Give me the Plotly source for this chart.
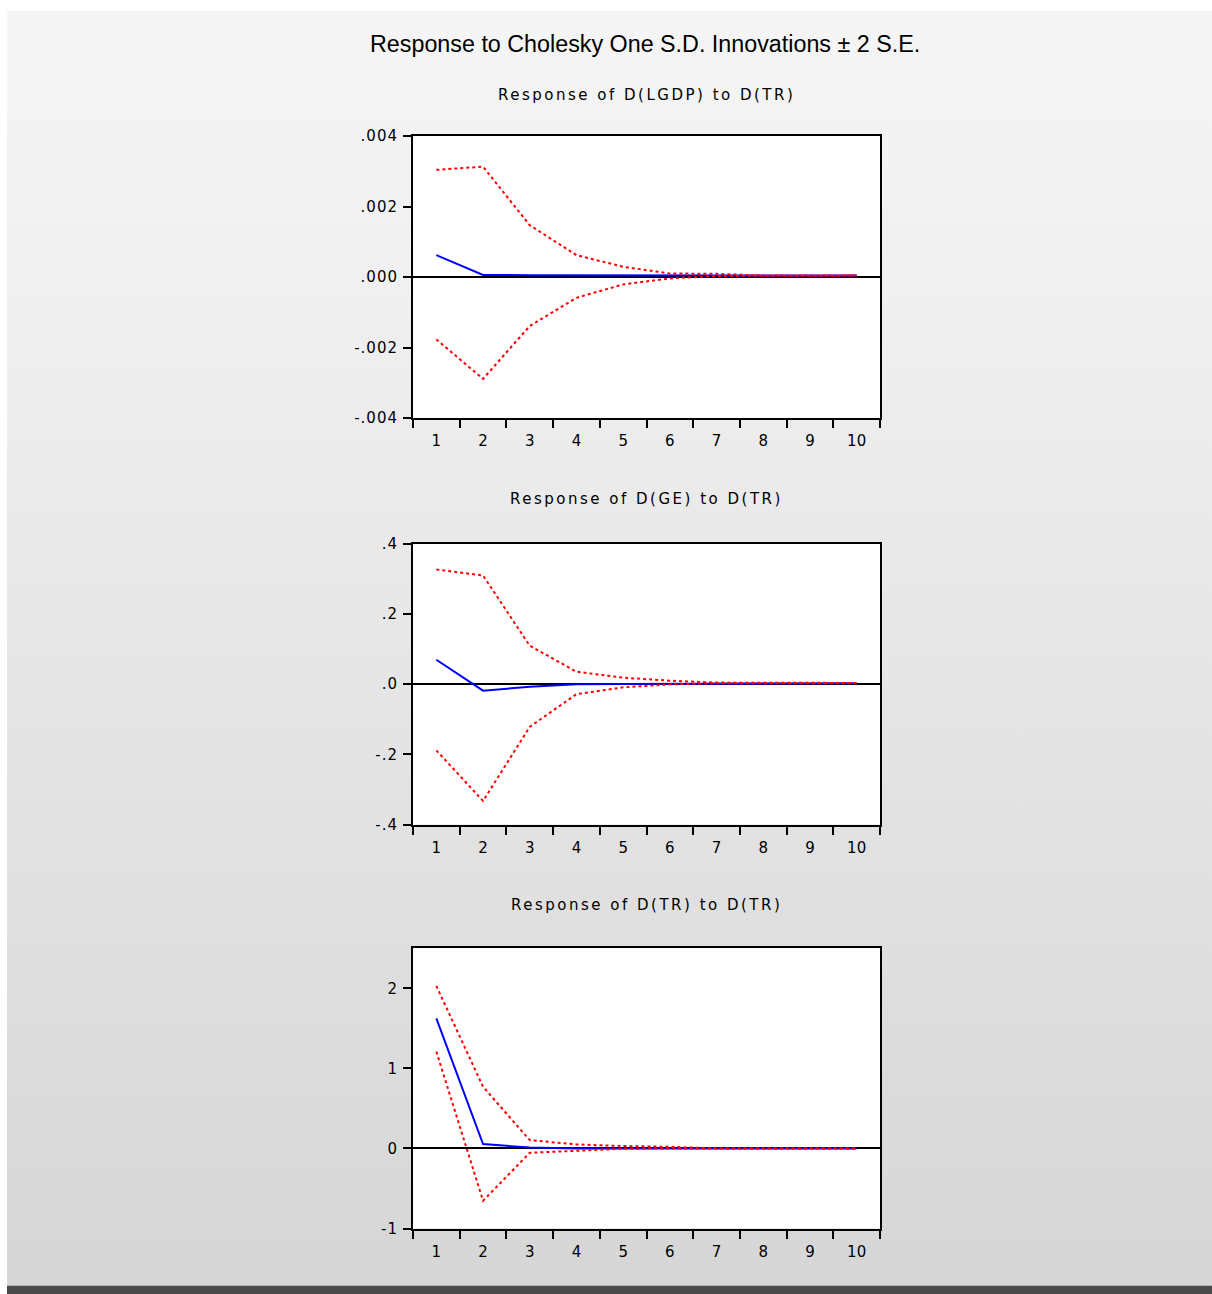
import base64
import plotly.graph_objects as go

# ---- data -------------------------------------------------------------
periods = [str(p) for p in range(1, 11)]

lgdp_resp = [0.00062, 0.00006, 0.00005, 0.00005, 0.00005, 0.00004, 0.00004, 0.00004, 0.00004, 0.00004]
lgdp_upper = [0.00304, 0.00313, 0.00147, 0.00062, 0.00029, 0.00010, 0.00009, 0.00004, 0.00004, 0.00004]
lgdp_lower = [-0.00177, -0.00289, -0.00139, -0.00059, -0.00021, -0.00004, 0.00003, 0.00004, 0.00004, 0.00004]

ge_resp = [0.069, -0.019, -0.008, -0.001, 0.000, 0.000, 0.000, 0.000, 0.000, 0.002]
ge_upper = [0.326, 0.309, 0.109, 0.035, 0.018, 0.0095, 0.004, 0.003, 0.003, 0.003]
ge_lower = [-0.189, -0.333, -0.122, -0.029, -0.0095, -0.001, 0.002, 0.002, 0.002, 0.002]

tr_resp = [1.625, 0.054, 0.0125, 0.0, 0.0, 0.0, 0.0, 0.0, 0.0, 0.0]
tr_upper = [2.03, 0.77, 0.104, 0.05, 0.03, 0.02, 0.0, 0.0, 0.0, 0.0]
tr_lower = [1.21, -0.654, -0.054, -0.03, -0.004, 0.0, 0.0, 0.0, 0.0, 0.0]

main_title = "Response to Cholesky One S.D. Innovations \u00b1 2 S.E."
panel_titles = [
    "Response of D(LGDP) to D(TR)",
    "Response of D(GE) to D(TR)",
    "Response of D(TR) to D(TR)",
]

lgdp_ticks = [0.004, 0.002, 0.0, -0.002, -0.004]
lgdp_ticktext = [".004", ".002", ".000", "-.002", "-.004"]
ge_ticks = [0.4, 0.2, 0.0, -0.2, -0.4]
ge_ticktext = [".4", ".2", ".0", "-.2", "-.4"]
tr_ticks = [2, 1, 0, -1]
tr_ticktext = ["2", "1", "0", "-1"]

# ---- page geometry ------------------------------------------------------
W, H = 1212, 1294


def px_x(x):
    return x / W


def px_y(y):
    return 1 - y / H


def spaced(text, px):
    return f'<span style="letter-spacing:{px}px">{text}</span>'


x_dom = [px_x(413), px_x(880)]
panels = [
    dict(resp=lgdp_resp, up=lgdp_upper, lo=lgdp_lower, rng=[-0.004, 0.004],
         tv=lgdp_ticks, tt=lgdp_ticktext, top=136, bottom=418, title_y=95),
    dict(resp=ge_resp, up=ge_upper, lo=ge_lower, rng=[-0.4, 0.4],
         tv=ge_ticks, tt=ge_ticktext, top=543.5, bottom=824.5, title_y=499),
    dict(resp=tr_resp, up=tr_upper, lo=tr_lower, rng=[-1.0, 2.5],
         tv=tr_ticks, tt=tr_ticktext, top=948.3, bottom=1228.5, title_y=905),
]

TICK_FONT = dict(family="DejaVu Sans", size=15, color="#000000")

fig = go.Figure()
layout = dict(
    width=W, height=H,
    autosize=False,
    margin=dict(l=0, r=0, t=0, b=0, pad=0, autoexpand=False),
    paper_bgcolor="#ffffff",
    plot_bgcolor="#ffffff",
    showlegend=False,
    annotations=[],
    shapes=[],
)

for i, p in enumerate(panels, start=1):
    sfx = "" if i == 1 else str(i)
    xa, ya = "x" + sfx, "y" + sfx

    fig.add_trace(go.Scatter(x=periods, y=p["resp"], mode="lines", xaxis=xa, yaxis=ya,
                             line=dict(color="#0000ff", width=2), hoverinfo="skip"))
    for band in (p["up"], p["lo"]):
        fig.add_trace(go.Scatter(x=periods, y=band, mode="lines", xaxis=xa, yaxis=ya,
                                 line=dict(color="#ff0000", width=2, dash="3px,3px"),
                                 hoverinfo="skip"))

    layout["xaxis" + sfx] = dict(
        domain=x_dom, anchor=ya, type="category", range=[-0.5, 9.5],
        showline=True, mirror=True, linecolor="#000000", linewidth=2,
        ticks="outside", tickson="boundaries", ticklen=8, tickwidth=2, tickcolor="#000000",
        ticklabelstandoff=8, automargin=False,
        showgrid=False, zeroline=False, tickfont=TICK_FONT, fixedrange=True,
    )
    layout["yaxis" + sfx] = dict(
        domain=[px_y(p["bottom"]), px_y(p["top"])], anchor=xa, range=p["rng"],
        tickmode="array", tickvals=p["tv"], ticktext=[spaced(t, 1) for t in p["tt"]],
        showline=True, mirror=True, linecolor="#000000", linewidth=2,
        ticks="outside", ticklen=8, tickwidth=2, tickcolor="#000000",
        ticklabelstandoff=2, automargin=False,
        showgrid=False, zeroline=True, zerolinecolor="#000000", zerolinewidth=2,
        tickfont=TICK_FONT, fixedrange=True,
    )

    # white plotting area on top of the page gradient
    layout["shapes"].append(dict(type="rect", xref=xa + " domain", yref=ya + " domain",
                                 x0=0, x1=1, y0=0, y1=1, fillcolor="#ffffff",
                                 line=dict(width=0), layer="below"))

    layout["annotations"].append(dict(
        text=spaced(panel_titles[i - 1], 2.5),
        xref="paper", yref="paper", x=(x_dom[0] + x_dom[1]) / 2, y=px_y(p["title_y"]),
        xanchor="center", yanchor="middle", showarrow=False,
        font=dict(family="DejaVu Sans", size=15, color="#000000"),
    ))

layout["annotations"].append(dict(
    text=main_title, xref="paper", yref="paper", x=px_x(645), y=px_y(44),
    xanchor="center", yanchor="middle", showarrow=False,
    font=dict(family="Liberation Sans", size=23.3, color="#000000"),
))

# window backdrop: white edge, grey vertical gradient, dark strip at the bottom
backdrop = f"""<svg xmlns="http://www.w3.org/2000/svg" width="{W}" height="{H}" viewBox="0 0 {W} {H}" preserveAspectRatio="none">
<defs><linearGradient id="g" x1="0" y1="0" x2="0" y2="1">
<stop offset="0" stop-color="#f5f5f5"/><stop offset="0.15" stop-color="#f2f2f2"/>
<stop offset="1" stop-color="#d6d6d6"/></linearGradient></defs>
<rect width="{W}" height="{H}" fill="#ffffff"/>
<rect x="7" y="11" width="{W - 7}" height="1274" fill="url(#g)"/>
<rect x="7" y="1285" width="{W - 7}" height="1" fill="#b4b4b4"/>
<rect x="7" y="1286" width="{W - 7}" height="8" fill="#4a4a4a"/>
</svg>"""
layout["images"] = [dict(
    source="data:image/svg+xml;base64," + base64.b64encode(backdrop.encode()).decode(),
    xref="paper", yref="paper", x=0, y=1, sizex=1, sizey=1,
    xanchor="left", yanchor="top", sizing="stretch", layer="below",
)]

fig.update_layout(**layout)
fig.write_html(
    "out.html",
    config={"displayModeBar": False, "responsive": False},
    post_script="document.body.style.margin='0';document.body.style.overflow='hidden';",
)
